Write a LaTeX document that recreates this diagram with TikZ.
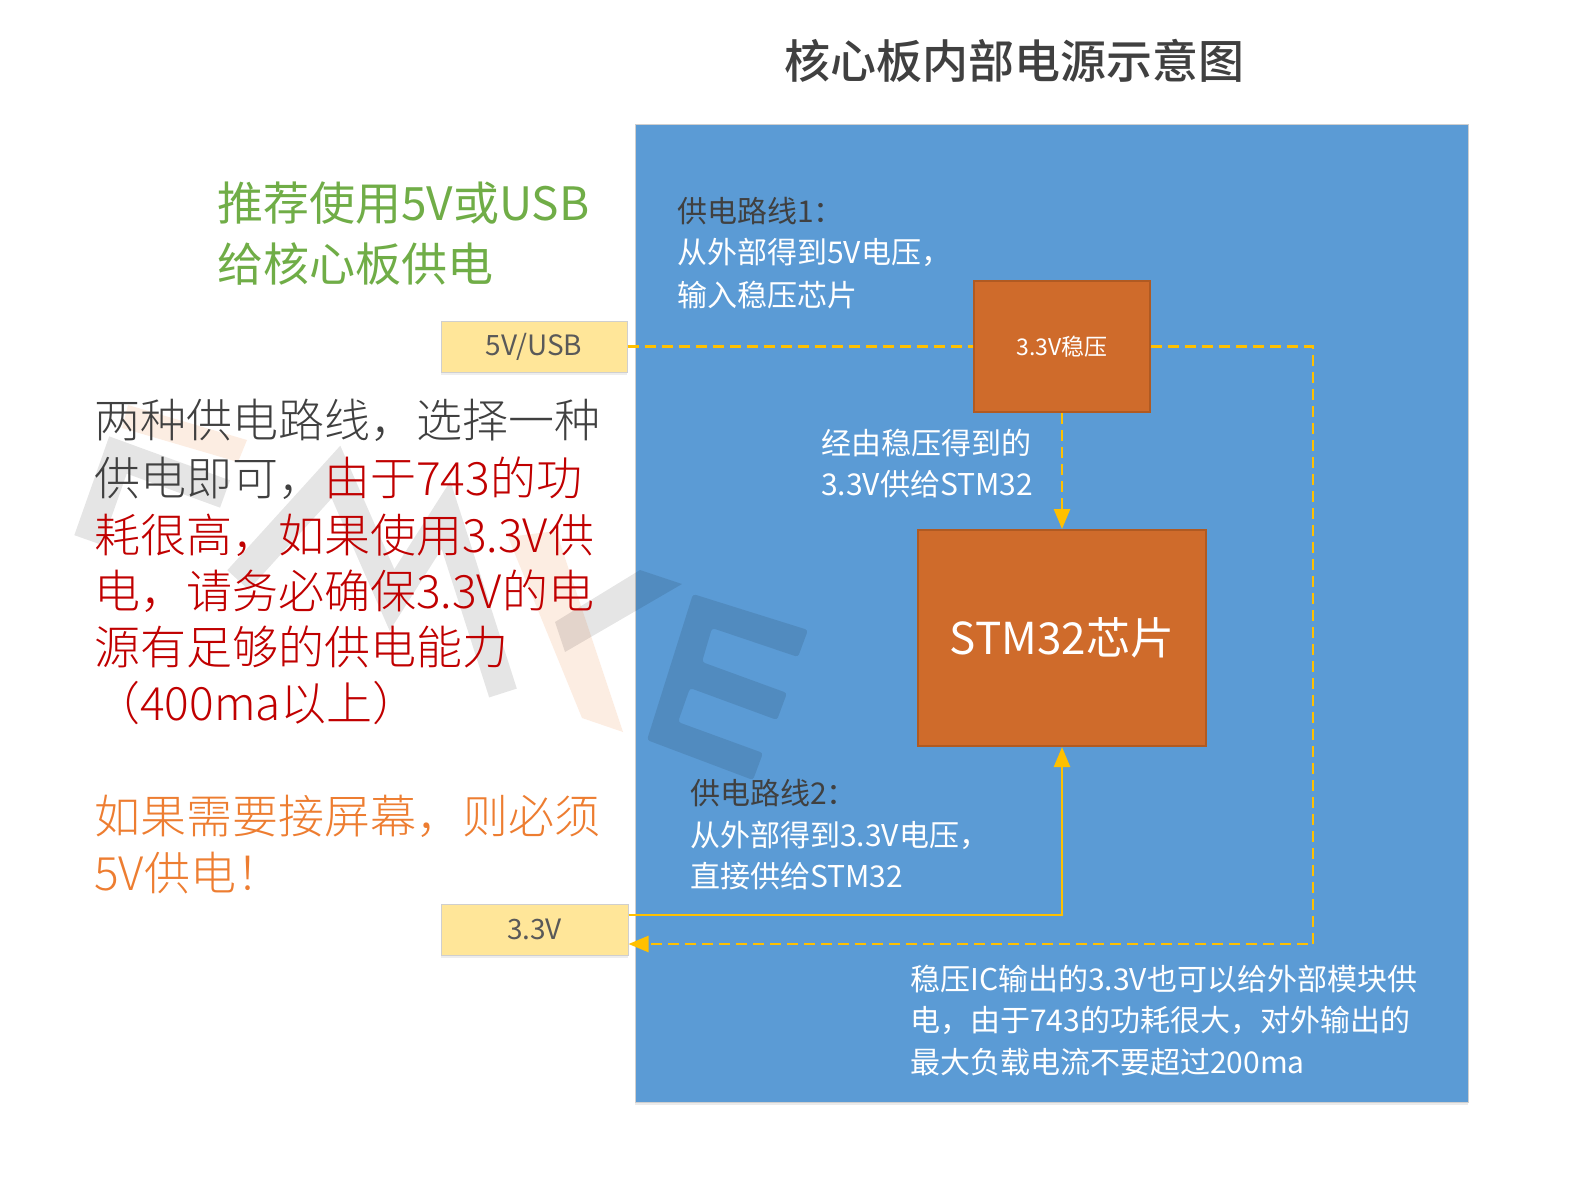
\documentclass[tikz,border=0pt]{standalone}
\usepackage{fontspec}
\setmainfont{Noto Sans CJK SC}
\newfontfamily\lightcjk{Noto Sans CJK SC Light}
\newfontfamily\mediumcjk{Noto Sans CJK SC Medium}
\usetikzlibrary{arrows.meta,shadows}
\definecolor{panelblue}{HTML}{5B9BD5}
\definecolor{boxorange}{RGB}{207,107,43}
\definecolor{boxorangedark}{RGB}{176,90,34}
\definecolor{boxyellow}{HTML}{FFE699}
\definecolor{boxyellowborder}{HTML}{CFCFCF}
\definecolor{linegold}{HTML}{FFC000}
\definecolor{textgray}{HTML}{404040}
\definecolor{labelgray}{HTML}{595959}
\definecolor{darkred}{HTML}{C00000}
\definecolor{leafgreen}{HTML}{70AD47}
\definecolor{warnorange}{HTML}{ED7D31}
\tikzset{
  bigtxt/.style={inner sep=0pt, anchor=west, font=\fontsize{46}{52}\selectfont\lightcjk},
  greentxt/.style={inner sep=0pt, anchor=west, font=\fontsize{46}{52}\selectfont, text=leafgreen},
  paneltxt/.style={inner sep=0pt, anchor=west, font=\fontsize{30}{36}\selectfont, text=white},
  panelbox/.style={draw=boxyellowborder, line width=1pt, fill=panelblue, inner sep=0pt,
    drop shadow={shadow xshift=0pt, shadow yshift=-3pt, opacity=0.08, fill=black}},
  chipbox/.style={draw=boxorangedark, line width=2pt, fill=boxorange, inner sep=0pt, text=white},
  portbox/.style={draw=boxyellowborder, line width=1pt, fill=boxyellow, inner sep=0pt,
    text=labelgray, font=\fontsize{28}{32}\selectfont,
    drop shadow={shadow xshift=0pt, shadow yshift=-3pt, opacity=0.07, fill=black}},
  dline/.style={draw=linegold, line width=2.5pt, dash pattern=on 11pt off 6pt},
  sline/.style={draw=linegold, line width=2.5pt},
  tip/.style={-{Triangle[length=20pt,width=16pt]}},
  wmgray/.style={draw=black, draw opacity=0.1, line width=29pt, line join=miter, line cap=butt},
  wmgrayfill/.style={fill=black, fill opacity=0.1},
  wmorangefill/.style={fill=warnorange, fill opacity=0.14},
}
\begin{document}
\begin{tikzpicture}[x=1pt,y=-1pt]
\useasboundingbox (0,0) rectangle (1595,1192);

% title
\node[inner sep=0pt, text=textgray, font=\fontsize{46}{52}\selectfont\mediumcjk] (title) at (1014,61) {核心板内部电源示意图};

% watermark (left part, behind everything)
\fill[wmorangefill] (128,405) -- (247,440) -- (238,462) -- (122,428) -- cycle;
\fill[wmorangefill] (508,537) -- (556,531) -- (623,732) -- (582,718) -- cycle;
\draw[wmgray] (88,540) -- (118,455) -- (225,494);
\draw[wmgray] (238,580) -- (336,472) -- (392,600) -- (446,515) -- (503,693);

% panel
\node[panelbox, minimum width=833pt, minimum height=978pt] (panel) at (1051.5,613) {};

% watermark parts crossing / over the panel area
\fill[wmgrayfill] (555,622) -- (640,570) -- (682,584) -- (565,652) -- cycle;
\fill[wmgrayfill, rounded corners=3pt] (693,594) -- (808,630) -- (798,657) -- (712,628)
  -- (702,662) -- (787,693) -- (777,720) -- (690,688) -- (678,722) -- (763,753)
  -- (753,780) -- (647,740) -- cycle;

% left texts
\node[greentxt] (g1) at (217,203) {推荐使用5V或USB};
\node[greentxt] (g2) at (217,264) {给核心板供电};

\node[bigtxt, text=textgray] (p1) at (94,420) {两种供电路线，选择一种};
\node[bigtxt] (p2) at (94,478) {\textcolor{textgray}{供电即可，}\textcolor{darkred}{由于743的功}};
\node[bigtxt, text=darkred] (p3) at (94,535) {耗很高，如果使用3.3V供};
\node[bigtxt, text=darkred] (p4) at (94,591) {电，请务必确保3.3V的电};
\node[bigtxt, text=darkred] (p5) at (94,647) {源有足够的供电能力};
\node[bigtxt, text=darkred] (p6) at (94,703) {（400ma以上）};

\node[bigtxt, text=warnorange] (o1) at (94,816) {如果需要接屏幕，则必须};
\node[bigtxt, text=warnorange] (o2) at (94,873) {5V供电！};

% port boxes
\node[portbox, minimum width=186pt, minimum height=51pt] (usb) at (534,346.5) {5V/USB};
\node[portbox, minimum width=187pt, minimum height=51pt] (v33) at (534.5,929.5) {3.3V};

% chips
\node[chipbox, minimum width=176pt, minimum height=131pt, font=\fontsize{23}{28}\selectfont] (reg) at (1062,346.5) {3.3V稳压};
\node[chipbox, minimum width=288pt, minimum height=216pt, font=\fontsize{44}{50}\selectfont] (stm) at (1062,638) {STM32芯片};

% panel texts
\node[paneltxt, text=textgray] (r1a) at (677,211) {供电路线1：};
\node[paneltxt] (r1b) at (677,252) {从外部得到5V电压，};
\node[paneltxt] (r1c) at (677,295) {输入稳压芯片};

\node[paneltxt] (m1) at (821,443) {经由稳压得到的};
\node[paneltxt] (m2) at (821,484) {3.3V供给STM32};

\node[paneltxt, text=textgray] (r2a) at (690,793) {供电路线2：};
\node[paneltxt] (r2b) at (690,835) {从外部得到3.3V电压，};
\node[paneltxt] (r2c) at (690,876) {直接供给STM32};

\node[paneltxt] (n1) at (910,979) {稳压IC输出的3.3V也可以给外部模块供};
\node[paneltxt] (n2) at (910,1020) {电，由于743的功耗很大，对外输出的};
\node[paneltxt] (n3) at (910,1062) {最大负载电流不要超过200ma};

% connectors
\coordinate (cr) at (1313,346.5);
\coordinate (cb) at (1313,944);
\coordinate (cs) at (1062,915);

\draw[dline] (usb.east) -- (reg.west);
\draw[dline, tip] (reg.south) -- (stm.north);
\draw[dline, tip] (reg.east) -- (cr) -- (cb) -- (cb -| v33.east);
\draw[sline, tip] (cs -| v33.east) -- (cs) -- (stm.south);
\end{tikzpicture}
\end{document}
